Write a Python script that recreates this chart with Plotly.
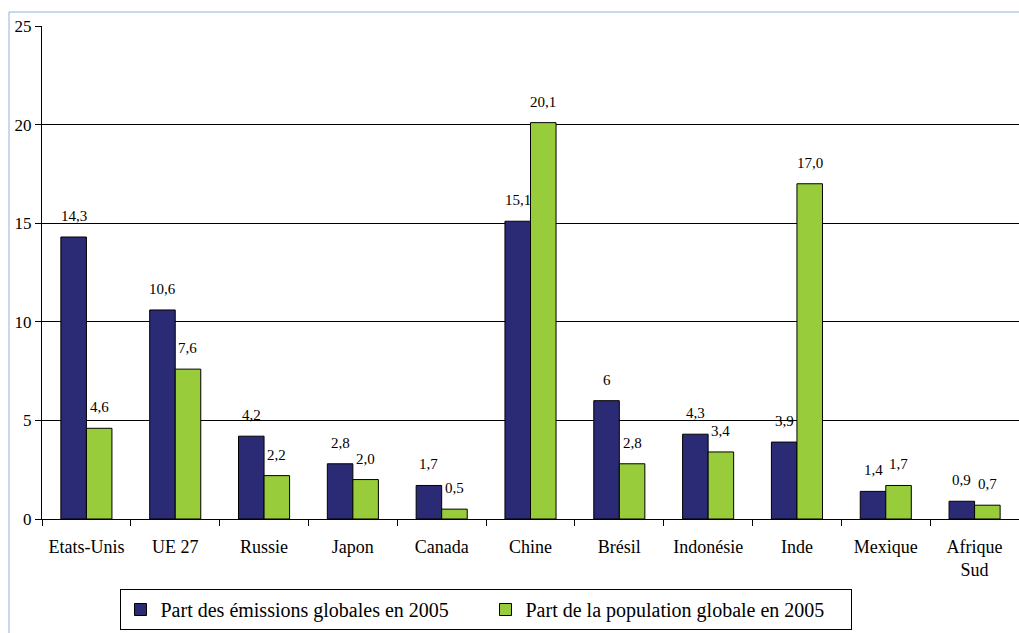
import plotly.graph_objects as go

categories = ["Etats-Unis", "UE 27", "Russie", "Japon", "Canada", "Chine",
              "Brésil", "Indonésie", "Inde", "Mexique", "Afrique<br>Sud"]
emissions = [14.3, 10.6, 4.2, 2.8, 1.7, 15.1, 6.0, 4.3, 3.9, 1.4, 0.9]
population = [4.6, 7.6, 2.2, 2.0, 0.5, 20.1, 2.8, 3.4, 17.0, 1.7, 0.7]
emissions_labels = ["14,3", "10,6", "4,2", "2,8", "1,7", "15,1", "6", "4,3", "3,9", "1,4", "0,9"]
population_labels = ["4,6", "7,6", "2,2", "2,0", "0,5", "20,1", "2,8", "3,4", "17,0", "1,7", "0,7"]
series_names = ["Part des émissions globales en 2005", "Part de la population globale en 2005"]
y_ticks = [0, 5, 10, 15, 20, 25]

FONT = "Liberation Serif"
NAVY = "#2a2a75"
GREEN = "#99cc3a"

fig = go.Figure()
fig.add_trace(go.Bar(x=categories, y=emissions, name=series_names[0],
                     marker=dict(color=NAVY, line=dict(color="black", width=1))))
fig.add_trace(go.Bar(x=categories, y=population, name=series_names[1],
                     marker=dict(color=GREEN, line=dict(color="black", width=1))))

W, H = 1019, 633
ml, mr, mt, mb = 42, 0, 26, 114
cat_w = (W - ml - mr) / len(categories)
bargap = 0.425
bar_w = cat_w * (1 - bargap) / 2

annotations = []
for c, v, t in zip(categories, emissions, emissions_labels):
    annotations.append(dict(x=c, y=v, text=t, showarrow=False, xshift=-bar_w / 2,
                            yshift=21, yanchor="middle", font=dict(family=FONT, size=15, color="black")))
for c, v, t in zip(categories, population, population_labels):
    annotations.append(dict(x=c, y=v, text=t, showarrow=False, xshift=bar_w / 2,
                            yshift=21, yanchor="middle", font=dict(family=FONT, size=15, color="black")))

pw = W - ml - mr
ph = H - mt - mb
fig.update_layout(
    width=W, height=H,
    margin=dict(l=ml, r=mr, t=mt, b=mb),
    paper_bgcolor="white", plot_bgcolor="white",
    barmode="group", bargap=bargap, bargroupgap=0,
    font=dict(family=FONT, size=17, color="black"),
    showlegend=True,
    legend=dict(orientation="h", x=(485.5 - ml) / pw, xanchor="center",
                y=(H - mb - 589) / ph, yanchor="top",
                bordercolor="black", borderwidth=1, font=dict(family=FONT, size=20, color="black"),
                itemwidth=30, tracegroupgap=0, entrywidth=320, entrywidthmode="pixels"),
    annotations=annotations,
    shapes=[dict(type="rect", xref="paper", yref="paper",
                 x0=(9 - ml) / pw, x1=1.2, y0=-0.5, y1=(H - mb - 12) / ph,
                 line=dict(color="#8fb3d9", width=1), layer="below")],
    xaxis=dict(type="category", showline=True, linecolor="black", linewidth=1,
               ticks="outside", tickson="boundaries", ticklen=6, tickcolor="black",
               ticklabelstandoff=11,
               tickfont=dict(family=FONT, size=18, color="black"), showgrid=False),
    yaxis=dict(range=[0, 25], tickvals=y_ticks, showline=True, linecolor="black", linewidth=1,
               ticks="outside", ticklen=6, tickcolor="black", showgrid=True,
               gridcolor="black", gridwidth=1, zeroline=False,
               tickfont=dict(family=FONT, size=17, color="black")),
)

fig.write_html("out.html")
